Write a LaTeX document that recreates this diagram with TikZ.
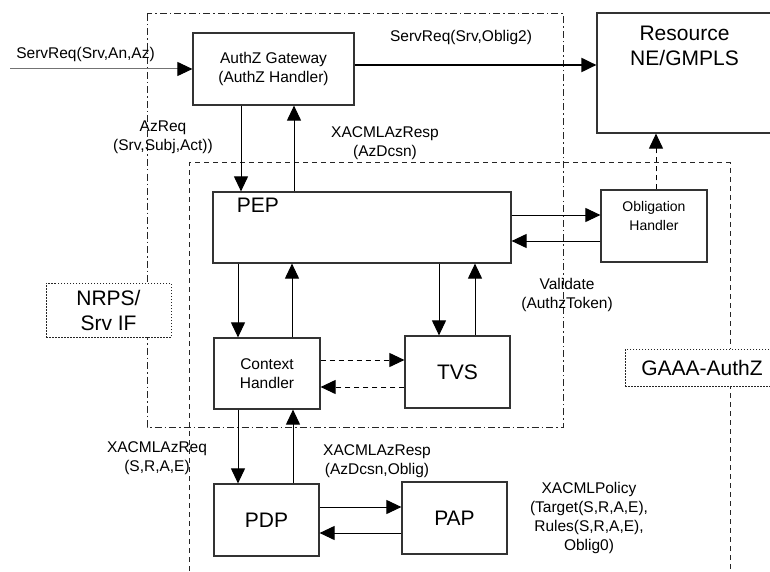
\documentclass[tikz,border=0pt]{standalone}
\usepackage{fontspec}
\setmainfont{Liberation Sans}
\usepackage{tikz}
\usetikzlibrary{arrows.meta}
\newcommand*\lbl{\fontsize{15.5}{19}\selectfont}
\newcommand*\bigtxt{\fontsize{21}{25}\selectfont}
\newcommand*\smalltxt{\fontsize{14}{19}\selectfont}

\begin{document}
\begin{tikzpicture}[x=1pt,y=-1pt,>={Triangle[length=15pt,width=14pt]},
		box/.style={shape=rectangle,draw=black!80,line width=1.2pt,fill=white,inner sep=0pt,align=center},
		area/.style={draw=black!85,line width=1pt},
		dotbox/.style={shape=rectangle,draw=black!85,line width=.8pt,dash pattern=on 1.5pt off 1.5pt,fill=white,align=center,font=\bigtxt},
		flow/.style={line width=1pt},
		dashline/.style={dash pattern=on 5pt off 4pt}]
					\useasboundingbox (0,0) rectangle (770,572);
					\clip (0,0) rectangle (770,572);

					% regions
					\draw[area,dash pattern=on 7pt off 3pt on 1.5pt off 3pt] (147,14) rectangle (563,427);
					\draw[area,dashline] (189,580) |- (730,163) -- (730,580);

					\node (nrps) [dotbox,minimum width=125pt,minimum height=54pt] at (108.5,310) {NRPS/\\Srv IF};
					\node (gaaa) [dotbox,minimum width=154pt,minimum height=37pt] at (702,367.5) {GAAA-AuthZ};

					\node (gateway) [box,minimum width=161pt,minimum height=72pt,font=\lbl] at (273.5,69) {AuthZ Gateway\\(AuthZ Handler)};
					\node (resource) [box,minimum width=175pt,minimum height=120pt,
						label={[anchor=north,align=center,font=\bigtxt,yshift=-10.5pt]north:Resource\\NE/GMPLS}] at (684.5,73) {};
					\node (pep) [box,minimum width=298pt,minimum height=71pt,
						label={[anchor=north west,font=\bigtxt,xshift=21pt,yshift=-3.5pt]north west:PEP}] at (362,227.5) {};
					\node (obligation) [box,minimum width=106pt,minimum height=72pt,
						label={[anchor=north,align=center,font=\smalltxt,yshift=-8pt]north:Obligation\\Handler}] at (654,226) {};
					\node (context) [box,minimum width=106pt,minimum height=71pt,font=\lbl] at (267,373.5) {Context\\Handler};
					\node (tvs) [box,minimum width=105pt,minimum height=72pt,font=\bigtxt] at (457.5,372) {TVS};
					\node (pdp) [box,minimum width=105pt,minimum height=72pt,font=\bigtxt] at (266.5,520) {PDP};
					\node (pap) [box,minimum width=105pt,minimum height=72pt,font=\bigtxt] at (454.5,518) {PAP};
					\coordinate (srvin) at (10,69);

					% message labels
					\node (lblsrvreq) [font=\lbl] at (85.5,54) {ServReq(Srv,An,Az)};
					\node (lbloblig) [font=\lbl] at (461,37) {ServReq(Srv,Oblig2)};
					\node (lblazreq) [font=\lbl,align=center] at (163,137) {AzReq\\(Srv,Subj,Act))};
					\node (lblazresp) [font=\lbl,align=center] at (385,143) {XACMLAzResp\\(AzDcsn)};
					\node (lblvalidate) [font=\lbl,align=center] at (567,294.5) {Validate\\(AuthzToken)};
					\node (lblxreq) [font=\lbl,align=center] at (157,458.5) {XACMLAzReq\\(S,R,A,E)};
					\node (lblxresp) [font=\lbl,align=center] at (377,461.5) {XACMLAzResp\\(AzDcsn,Oblig)};
					\node (lblpolicy) [font=\lbl,align=center] at (589,518) {XACMLPolicy\\(Target(S,R,A,E),\\Rules(S,R,A,E),\\Oblig0)};

					\path[-{Triangle[length=15pt,width=14pt,color=black,fill=black]},flow] (srvin) edge[draw=black!55] (gateway.west |- srvin);
					\path[->,line width=2pt] (gateway.east |- 0,65) edge (resource.west |- 0,65);
					\path[->,flow] (241,0 |- gateway.south) edge (241,0 |- pep.north)
						(294,0 |- pep.north) edge (294,0 |- gateway.south);
					\path[->,flow] (pep.east |- 0,215) edge (obligation.west |- 0,215)
						(obligation.west |- 0,241) edge (pep.east |- 0,241);
					\path[->,flow,dashline] (656,0 |- obligation.north) edge (656,0 |- resource.south);
					\path[->,flow] (238,0 |- pep.south) edge (238,0 |- context.north)
						(292,0 |- context.north) edge (292,0 |- pep.south);
					\path[->,flow] (439,0 |- pep.south) edge (439,0 |- tvs.north)
						(475,0 |- tvs.north) edge (475,0 |- pep.south);
					\path[->,flow,dashline] (context.east |- 0,360) edge (tvs.west |- 0,360)
						(tvs.west |- 0,387) edge (context.east |- 0,387);
					\path[->,flow] (238,0 |- context.south) edge (238,0 |- pdp.north)
						(293,0 |- pdp.north) edge (293,0 |- context.south);
					\path[->,flow] (pdp.east |- 0,507) edge (pap.west |- 0,507)
						(pap.west |- 0,533) edge (pdp.east |- 0,533);
				\end{tikzpicture}
\end{document}
